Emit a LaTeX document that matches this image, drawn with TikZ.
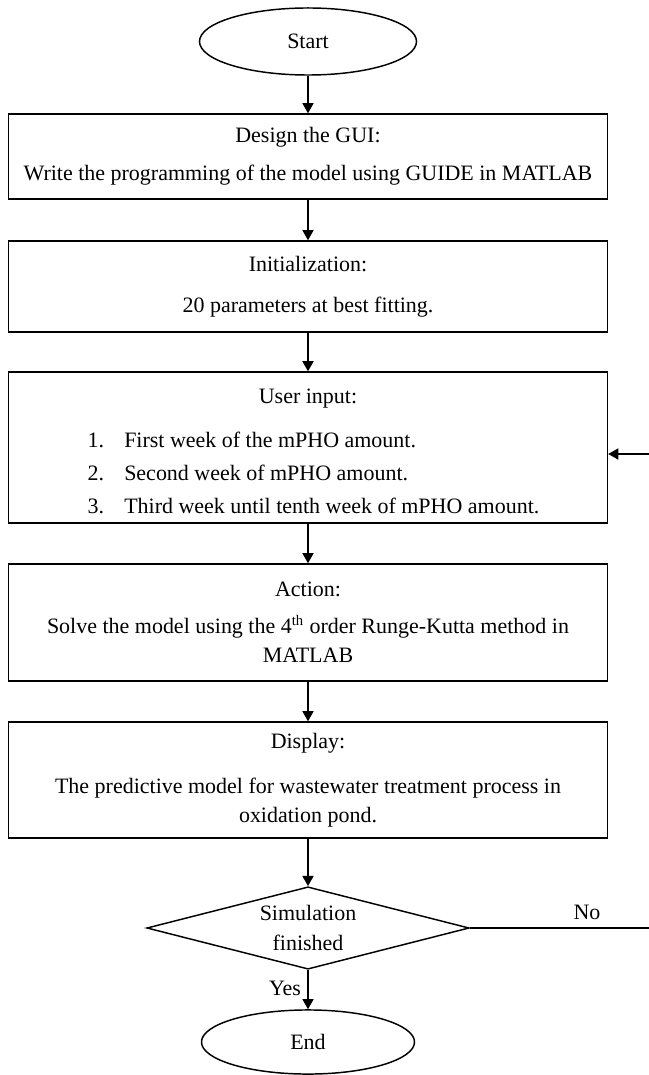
\documentclass[tikz,border=0pt]{standalone}
\usepackage{fontspec}
\setmainfont{Liberation Serif}
\usetikzlibrary{shapes.geometric,arrows.meta}

\begin{document}
\begin{tikzpicture}[x=0.546pt,y=-0.546pt,
	font=\fontsize{12pt}{16pt}\selectfont,
	terminal/.style={ellipse,draw,thick,inner sep=0pt},
	stepbox/.style={rectangle,draw,thick,align=center,minimum width=327pt,inner sep=0pt},
	decision/.style={diamond,draw,thick,align=center,aspect=3.9,inner sep=0pt,minimum width=176pt,minimum height=45pt},
	flow/.style={thick,-{Triangle[length=5.5pt,width=6pt]}}]
	\useasboundingbox (0,0) rectangle (648,1075);
	\node[terminal,minimum width=118.5pt,minimum height=36.6pt] (start) at (308,41.5) {Start};
	\node[stepbox,minimum height=46.4pt] (gui) at (308,156.5) {Design the GUI:\\[5pt]
		Write the programming of the model using GUIDE in MATLAB};
	\node[stepbox,minimum height=49.7pt] (init) at (308,286.5) {Initialization:\\[6.5pt]
		20 parameters at best fitting.};
	\node[stepbox,minimum height=82.4pt] (input) at (308,447.5) {\rule{0pt}{17pt}User input:\\[8pt]
		\hspace{6pt}\renewcommand{\arraystretch}{1.125}%
		\begin{tabular}[t]{@{}l@{\hspace{11pt}}l@{}}
			1. & First week of the mPHO amount.\\
			2. & Second week of mPHO amount.\\
			3. & Third week until tenth week of mPHO amount.
		\end{tabular}};
	\node[stepbox,minimum height=63.9pt] (act) at (308,622.5) {Action:\\[4pt]
		Solve the model using the 4\textsuperscript{th} order Runge-Kutta method in\\
		MATLAB};
	\node[stepbox,minimum height=63.3pt] (show) at (308,780) {Display:\\[8.6pt]
		The predictive model for wastewater treatment process in\\
		oxidation pond.};
	\node[decision] (check) at (308,928) {Simulation\\finished};
	\node[terminal,minimum width=116.3pt,minimum height=35pt] (end) at (308,1042) {End};
	\node (yes) at (285,988) {Yes};
	\node (no) at (587,912) {No};

	\draw[flow] (start) -- (gui);
	\draw[flow] (gui) -- (init);
	\draw[flow] (init) -- (input);
	\draw[flow] (input) -- (act);
	\draw[flow] (act) -- (show);
	\draw[flow] (show) -- (check);
	\draw[flow] (check) -- (end);
	% loop back, runs off the right edge
	\coordinate (turn) at (651,928);
	\coordinate (back) at (651,454);
	\draw[flow] (check.east) -- (turn) -- (back) -- (back -| input.east);
\end{tikzpicture}
\end{document}
